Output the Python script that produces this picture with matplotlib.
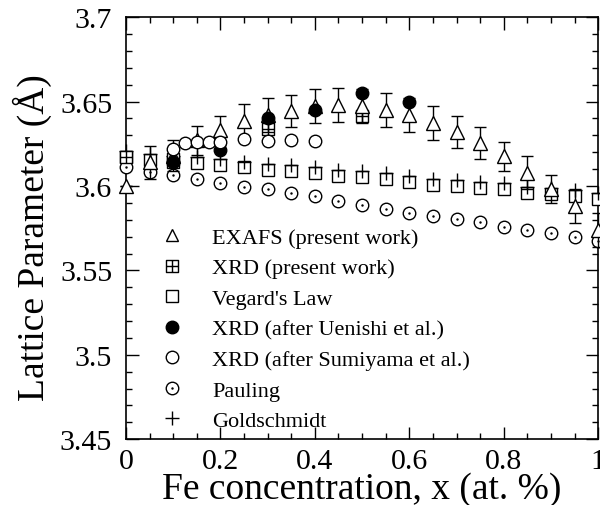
import matplotlib
matplotlib.use('Agg')
import matplotlib.pyplot as plt
from matplotlib.path import Path
from matplotlib.ticker import MultipleLocator

plt.rcParams['font.family'] = ['Liberation Serif', 'DejaVu Serif']

# data
x_exafs = [0.0, 0.05, 0.1, 0.15, 0.2, 0.25, 0.3, 0.35, 0.4, 0.45, 0.5,
           0.55, 0.6, 0.65, 0.7, 0.75, 0.8, 0.85, 0.9, 0.95, 1.0]
y_exafs = [3.600, 3.614, 3.618, 3.627, 3.633, 3.6385, 3.642, 3.6445, 3.6475, 3.648, 3.6475,
           3.645, 3.642, 3.6375, 3.632, 3.6255, 3.6175, 3.608, 3.598, 3.588, 3.574]
err_exafs = [0.0, 0.010, 0.009, 0.0085, 0.0085, 0.010, 0.010, 0.0095, 0.010, 0.010, 0.010,
             0.010, 0.010, 0.010, 0.0095, 0.0092, 0.0087, 0.0095, 0.0083, 0.010, 0.010]

x_xrd = [0.0, 0.1, 0.3, 0.5]
y_xrd = [3.617, 3.616, 3.634, 3.6415]

x_vegard = [0.0, 0.05, 0.1, 0.15, 0.2, 0.25, 0.3, 0.35, 0.4, 0.45, 0.5,
            0.55, 0.6, 0.65, 0.7, 0.75, 0.8, 0.85, 0.9, 0.95, 1.0]
y_vegard = [3.617, 3.6155, 3.6143, 3.6135, 3.6123, 3.611, 3.6095, 3.609, 3.608, 3.606, 3.6056,
            3.604, 3.6025, 3.6007, 3.600, 3.5987, 3.598, 3.5961, 3.5951, 3.5941, 3.5922]

x_uenishi = [0.1, 0.2, 0.3, 0.4, 0.5, 0.6]
y_uenishi = [3.614, 3.6215, 3.6405, 3.645, 3.655, 3.650]

x_sumiyama = [0.1, 0.125, 0.15, 0.175, 0.2, 0.25, 0.3, 0.35, 0.4]
y_sumiyama = [3.622, 3.6255, 3.6258, 3.626, 3.6258, 3.628, 3.6267, 3.6271, 3.6265]

x_pauling = x_vegard
y_pauling = [3.611, 3.6084, 3.6064, 3.6044, 3.602, 3.5997, 3.598, 3.5956, 3.594, 3.5912, 3.5886,
             3.5863, 3.5843, 3.5823, 3.5803, 3.5784, 3.576, 3.5742, 3.5722, 3.570, 3.5675]

x_goldschmidt = x_vegard
y_goldschmidt = [3.6205, 3.619, 3.618, 3.617, 3.6158, 3.6145, 3.613, 3.6125, 3.6115, 3.6095, 3.609,
                 3.6075, 3.606, 3.6042, 3.6035, 3.6022, 3.6015, 3.5996, 3.5986, 3.5976, 3.5957]

labels = ["EXAFS (present work)", "XRD (present work)", "Vegard's Law",
          "XRD (after Uenishi et al.)", "XRD (after Sumiyama et al.)",
          "Pauling", "Goldschmidt"]

# square with a cross inside
boxplus = Path([(-1, -1), (1, -1), (1, 1), (-1, 1), (-1, -1), (0, -1), (0, 1), (-1, 0), (1, 0)],
               [Path.MOVETO, Path.LINETO, Path.LINETO, Path.LINETO, Path.CLOSEPOLY,
                Path.MOVETO, Path.LINETO, Path.MOVETO, Path.LINETO])

fig = plt.figure(figsize=(6, 5.06), dpi=100)
ax = fig.add_axes([0.21, 0.13, 0.787, 0.834])

kw = dict(linestyle='none', color='black', markeredgewidth=1.0, clip_on=False)

ax.plot(x_vegard, y_vegard, marker='s', markersize=8, markerfacecolor='white', zorder=3, **kw)
ax.plot(x_pauling, y_pauling, marker='o', markersize=9, markerfacecolor='white', zorder=3, **kw)
ax.plot(x_pauling, y_pauling, marker='.', markersize=1.5, zorder=3.1, **kw)
ax.plot(x_goldschmidt, y_goldschmidt, marker='+', markersize=10, zorder=3.2, **kw)
ax.plot(x_xrd, y_xrd, marker=boxplus, markersize=8, markerfacecolor='white', zorder=4, **kw)
ax.errorbar(x_exafs, y_exafs, yerr=err_exafs, marker='^', markersize=10, markerfacecolor='white',
            capsize=4.5, elinewidth=1.0, capthick=1.0, zorder=5, **kw)
ax.plot(x_uenishi, y_uenishi, marker='o', markersize=9, zorder=6, **kw)
ax.plot(x_sumiyama, y_sumiyama, marker='o', markersize=9, markerfacecolor='white', zorder=7, **kw)

ax.set_xlim(0, 1)
ax.set_ylim(3.45, 3.7)
ax.xaxis.set_minor_locator(MultipleLocator(0.05))
ax.yaxis.set_minor_locator(MultipleLocator(0.01))
ax.set_xticks([0, 0.2, 0.4, 0.6, 0.8, 1.0], ['0', '0.2', '0.4', '0.6', '0.8', '1'])
ax.set_yticks([3.45, 3.5, 3.55, 3.6, 3.65, 3.7], ['3.45', '3.5', '3.55', '3.6', '3.65', '3.7'])
ax.tick_params(which='both', direction='in', top=True, right=True, width=1.0)
ax.tick_params(which='major', length=9, labelsize=21.5)
ax.tick_params(axis='y', which='major', pad=10)
ax.tick_params(axis='x', which='major', pad=6)
ax.tick_params(which='minor', length=4.5)
for s in ax.spines.values():
    s.set_linewidth(1.2)

ax.set_xlabel("Fe concentration, x (at. %)", fontsize=27, va='baseline')
ax.xaxis.set_label_coords(0.5, -0.138)
ax.set_ylabel("Lattice Parameter (Å)", fontsize=27, va='center')
ax.yaxis.set_label_coords(-0.198, 0.48)

# legend handles (marker only)
lk = dict(linestyle='none', color='black', markeredgewidth=1.0)
l_ex, = ax.plot([], [], marker='^', markersize=9, markerfacecolor='white', **lk)
l_xrd, = ax.plot([], [], marker=boxplus, markersize=8, markerfacecolor='white', **lk)
l_veg, = ax.plot([], [], marker='s', markersize=8, markerfacecolor='white', **lk)
l_uen, = ax.plot([], [], marker='o', markersize=9, **lk)
l_sum, = ax.plot([], [], marker='o', markersize=9, markerfacecolor='white', **lk)
l_pau, = ax.plot([], [], marker='o', markersize=9, markerfacecolor='white', **lk)
l_pdot, = ax.plot([], [], marker='.', markersize=1.5, **lk)
l_gold, = ax.plot([], [], marker='+', markersize=10, **lk)

ax.legend([l_ex, l_xrd, l_veg, l_uen, l_sum, (l_pau, l_pdot), l_gold], labels,
          loc='lower left', bbox_to_anchor=(0.042, -0.018), frameon=False, fontsize=16,
          handlelength=1.0, handletextpad=1.3, labelspacing=0.45, borderpad=0.2)

fig.savefig("out.png", dpi=100)
